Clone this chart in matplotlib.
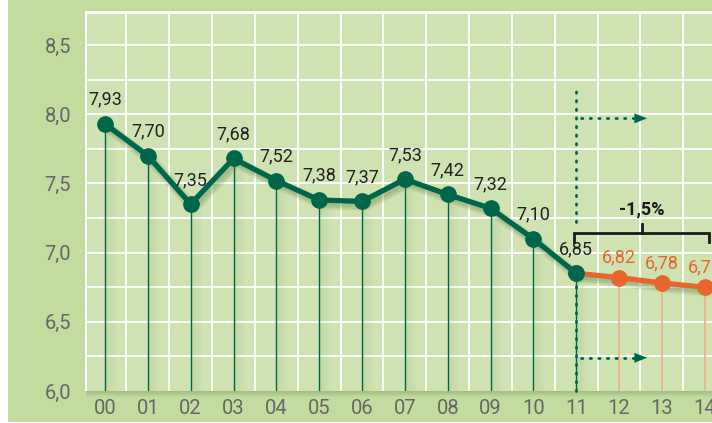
import matplotlib
matplotlib.use("Agg")
import matplotlib.pyplot as plt
import matplotlib.transforms as mtransforms
from matplotlib.patches import Rectangle
import numpy as np

plt.rcParams['font.family'] = ['Liberation Sans Narrow', 'Roboto', 'DejaVu Sans']

years = ["00", "01", "02", "03", "04", "05", "06", "07", "08", "09", "10", "11", "12", "13", "14"]
actual = [7.93, 7.70, 7.35, 7.68, 7.52, 7.38, 7.37, 7.53, 7.42, 7.32, 7.10, 6.85]
forecast = [6.85, 6.82, 6.78, 6.75]
actual_labels = ["7,93", "7,70", "7,35", "7,68", "7,52", "7,38", "7,37", "7,53", "7,42", "7,32", "7,10", "6,85"]
forecast_labels = ["6,82", "6,78", "6,75"]
yticks = [6.0, 6.5, 7.0, 7.5, 8.0, 8.5]
ytick_labels = ["6,0", "6,5", "7,0", "7,5", "8,0", "8,5"]
change_label = "-1,5%"

BG = "#c2dca0"
PLOT_BG = "#cee3b1"
GREEN = "#00664a"
ORANGE = "#e8652b"
ORANGE_LIGHT = "#efae88"
SHADOW = "#587a3c"

fig = plt.figure(figsize=(7.12, 4.23), dpi=100)
fig.patch.set_facecolor(BG)
# white strip at left and thin one at bottom
fig.patches.append(Rectangle((0, 0), 8/712, 1, transform=fig.transFigure,
                             facecolor="white", edgecolor="none", zorder=-5))
fig.patches.append(Rectangle((0, 0), 1, 1.5/423, transform=fig.transFigure,
                             facecolor="white", edgecolor="none", zorder=-5))

ax = fig.add_axes([85/712, 32/423, 1 - 85/712, (391 - 11.5)/423])
ax.set_facecolor(PLOT_BG)
ax.set_xlim(-0.467, 14.17)
ax.set_ylim(6.0, 8.742)

# bottom shadow of plot area
for i in range(6):
    fig.patches.append(Rectangle((86/712, (32 - 1 - i)/423), 1, 1/423, transform=fig.transFigure,
                                 facecolor=SHADOW, alpha=0.30 * (1 - i/6), edgecolor="none", zorder=-4))

# grid
for v in np.arange(6.25, 8.75, 0.25):
    ax.axhline(v, color="white", lw=1.3, zorder=1)
for k in range(15):
    ax.axvline(k + 0.5, color="white", lw=1.3, zorder=1)
ax.axvline(-0.467, color="white", lw=2.2, zorder=1)
ax.axhline(8.742, color="white", lw=2.2, zorder=1)

x_act = np.arange(len(actual))
x_fc = np.arange(len(actual) - 1, len(actual) - 1 + len(forecast))

# stem shadows (soft gradient to the right)
for xi, yi in zip(x_act, actual):
    for j in range(8):
        ax.add_patch(Rectangle((xi + 0.03 + j * 0.03, 6.0), 0.03, yi - 6.0,
                               facecolor=SHADOW, alpha=0.10 * (1 - j/8), edgecolor="none", zorder=1.5))
# stems
for xi, yi in zip(x_act, actual):
    ax.plot([xi, xi], [6.0, yi], color=GREEN, lw=1.0, zorder=2)
for xi, yi in zip(x_fc[1:], forecast[1:]):
    ax.plot([xi, xi], [6.0, yi], color=ORANGE_LIGHT, lw=1.2, zorder=2)

# soft line shadow
for dx, dy, a, lw in [(3, -4, 0.12, 8), (3, -4, 0.15, 5.5), (2, -3, 0.15, 4)]:
    off = mtransforms.offset_copy(ax.transData, fig=fig, x=dx, y=dy, units="dots")
    ax.plot(x_act, actual, color=SHADOW, lw=lw, alpha=a, transform=off, zorder=3,
            solid_capstyle="round", solid_joinstyle="round")
    ax.plot(x_fc, forecast, color=SHADOW, lw=lw, alpha=a, transform=off, zorder=3,
            solid_capstyle="round", solid_joinstyle="round")

ax.plot(x_fc, forecast, color=ORANGE, lw=3.8, marker="o", ms=11, zorder=4)
ax.plot(x_act, actual, color=GREEN, lw=3.8, marker="o", ms=11, zorder=5)

for xi, yi, lab in zip(x_act, actual, actual_labels):
    ax.annotate(lab, (xi, yi), xytext=(0, 11), textcoords="offset points", ha="center", va="bottom",
                fontsize=13, color="#222222", zorder=6)
for xi, yi, lab in zip(x_fc[1:], forecast[1:], forecast_labels):
    ax.annotate(lab, (xi, yi), xytext=(0, 8), textcoords="offset points", ha="center", va="bottom",
                fontsize=13, color=ORANGE, zorder=6)

# dotted vertical line at year 11
ax.plot([11, 11], [7.22, 8.21], color=GREEN, lw=2, ls=(0, (0.5, 2.6)), dash_capstyle="round", zorder=3)
ax.plot([11, 11], [6.0, 6.78], color=GREEN, lw=2, ls=(0, (0.5, 2.6)), dash_capstyle="round", zorder=3, clip_on=False)

# dotted arrows
for yv in [7.97, 6.24]:
    ax.plot([11.12, 12.4], [yv, yv], color=GREEN, lw=2, ls=(0, (0.5, 2.6)), dash_capstyle="round", zorder=3)
    ax.annotate("", xy=(12.72, yv), xytext=(12.3, yv),
                arrowprops=dict(arrowstyle="-|>,head_length=0.9,head_width=0.35", color=GREEN, lw=0.1), zorder=3)

# bracket
ax.plot([10.95, 10.95, 14.1, 14.1], [7.08, 7.14, 7.14, 7.08], color="#1a1a1a", lw=2, zorder=3,
        solid_joinstyle="miter")
ax.plot([12.54, 12.54], [7.14, 7.21], color="#1a1a1a", lw=2, zorder=3)
ax.text(12.54, 7.25, change_label, ha="center", va="bottom", fontsize=13, fontweight="bold", color="#1a1a1a")

ax.set_xticks(np.arange(len(years)))
ax.set_xticklabels(years)
ax.set_yticks(yticks)
ax.set_yticklabels(ytick_labels)
ax.tick_params(length=0, labelsize=14.5, labelcolor="#666666")
ax.tick_params(axis="y", pad=10)
ax.tick_params(axis="x", pad=6)
for s in ax.spines.values():
    s.set_visible(False)

fig.savefig("out.png", dpi=100, facecolor=BG)
